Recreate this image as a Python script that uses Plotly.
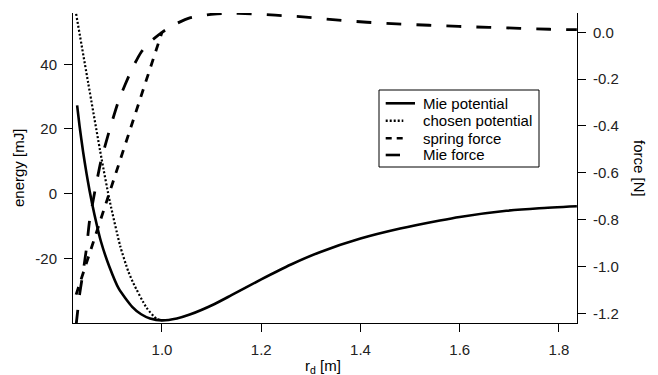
import plotly.graph_objects as go

# Mie potential (energy axis, mJ)
mie_pot_x = [0.829, 0.834, 0.841, 0.848, 0.854, 0.864, 0.877, 0.894, 0.913, 0.940, 0.958, 0.976, 1.000,
             1.030, 1.056, 1.105, 1.140, 1.200, 1.260, 1.318, 1.400, 1.480, 1.560, 1.600, 1.694, 1.760, 1.836]
mie_pot_y = [27.3, 20.8, 13.0, 6.2, 1.0, -6.5, -14.8, -22.6, -29.4, -35.0, -37.3, -38.6, -39.2,
             -38.6, -37.4, -34.2, -31.4, -26.5, -21.9, -18.1, -13.9, -10.8, -8.3, -7.2, -5.3, -4.5, -3.9]

# chosen potential (energy axis, mJ)
chosen_x = [0.827, 0.851, 0.878, 0.895, 0.916, 0.932, 0.942, 0.969, 0.989, 1.000]
chosen_y = [55.6, 34.5, 11.0, -2.5, -16.3, -24.0, -27.6, -35.3, -38.7, -39.2]

# spring force (force axis, N)
spring_x = [0.827, 0.878, 0.919, 0.962, 1.000]
spring_y = [-1.12, -0.79, -0.53, -0.25, 0.0]

# Mie force (force axis, N)
mie_f_x = [0.827, 0.834, 0.841, 0.848, 0.854, 0.864, 0.877, 0.894, 0.913, 0.940, 0.958, 0.976, 1.000,
           1.030, 1.056, 1.105, 1.140, 1.167, 1.228, 1.290, 1.350, 1.413, 1.473, 1.538, 1.598,
           1.659, 1.721, 1.781, 1.836]
mie_f_y = [-1.25, -1.12, -1.025, -0.92, -0.806, -0.687, -0.55, -0.42, -0.29, -0.155, -0.085, -0.041, 0.0,
           0.038, 0.062, 0.078, 0.081, 0.080, 0.073, 0.065, 0.053, 0.043, 0.036, 0.030, 0.025,
           0.021, 0.017, 0.013, 0.011]

x_ticks = [1.0, 1.2, 1.4, 1.6, 1.8]
e_ticks = [-20, 0, 20, 40]
f_ticks = [-1.2, -1.0, -0.8, -0.6, -0.4, -0.2, 0.0]

series_names = ["Mie potential", "chosen potential", "spring force", "Mie force"]
series_dash = ["solid", "2px,2px", "8px,8px", "15px,15px"]
legend_dash = ["solid", "2px,2px", "6px,5px", "solid"]
legend_len = [29.3, 17.6, 17.6, 14.3]

FONT = "Arial, Liberation Sans, sans-serif"
FS = 15

fig = go.Figure()
fig.add_trace(go.Scatter(x=mie_pot_x, y=mie_pot_y, mode="lines", name=series_names[0],
                         line=dict(color="black", width=2.6, dash=series_dash[0], shape="spline", smoothing=0.6)))
fig.add_trace(go.Scatter(x=chosen_x, y=chosen_y, mode="lines", name=series_names[1],
                         line=dict(color="black", width=2.2, dash=series_dash[1], shape="spline", smoothing=0.6)))
fig.add_trace(go.Scatter(x=spring_x, y=spring_y, mode="lines", name=series_names[2], yaxis="y2",
                         line=dict(color="black", width=2.8, dash=series_dash[2])))
fig.add_trace(go.Scatter(x=mie_f_x, y=mie_f_y, mode="lines", name=series_names[3], yaxis="y2",
                         line=dict(color="black", width=2.8, dash=series_dash[3], shape="spline", smoothing=0.6)))

axis_common = dict(showgrid=False, zeroline=False, showline=True, linecolor="black", linewidth=1,
                   ticks="outside", ticklen=8, tickcolor="black", tickwidth=1,
                   tickfont=dict(family=FONT, size=FS, color="#222"))

# plot area in pixels: left 73, right 577, top 13, bottom 323
L, R, T, B = 73, 577, 13, 323
W, H = R - L, B - T

fig.update_layout(
    width=658, height=375,
    margin=dict(l=L, r=658 - R, t=T, b=375 - B),
    plot_bgcolor="white", paper_bgcolor="white",
    font=dict(family=FONT, size=FS, color="black"),
    xaxis=dict(range=[0.8207, 1.8363], tickvals=x_ticks, ticktext=[f"{v:.1f}" for v in x_ticks],
               ticklabelstandoff=5, **axis_common),
    yaxis=dict(range=[-40.0, 55.87], tickvals=e_ticks, ticktext=[str(v) for v in e_ticks],
               ticklabelstandoff=4, **axis_common),
    yaxis2=dict(range=[-1.2414, 0.0824], overlaying="y", side="right", anchor="x",
                tickvals=f_ticks, ticktext=[f"{v:.1f}" for v in f_ticks], ticklabelstandoff=4,
                **axis_common),
    showlegend=False,
)

def px_x(p):
    return (p - L) / W

def px_y(p):
    return (B - p) / H

# legend box
fig.add_shape(type="rect", xref="paper", yref="paper", x0=px_x(379), x1=px_x(539),
              y0=px_y(167), y1=px_y(90), line=dict(color="black", width=1), fillcolor="white",
              layer="above")
row_y = [103.3, 120.7, 138.3, 155.0]
for i, name in enumerate(series_names):
    fig.add_shape(type="line", xref="paper", yref="paper",
                  x0=px_x(385.7), x1=px_x(385.7 + legend_len[i]), y0=px_y(row_y[i]), y1=px_y(row_y[i]),
                  line=dict(color="black", width=2.6, dash=legend_dash[i]), layer="above")
    fig.add_annotation(text=name, xref="paper", yref="paper", x=px_x(420.5), y=px_y(row_y[i]),
                       xanchor="left", yanchor="middle", showarrow=False,
                       font=dict(family=FONT, size=FS, color="black"))

fig.add_annotation(text="energy [mJ]", xref="paper", yref="paper", x=px_x(18), y=0.5,
                   textangle=-90, showarrow=False, font=dict(family=FONT, size=FS),
                   xanchor="center", yanchor="middle")
fig.add_annotation(text="force [N]", xref="paper", yref="paper", x=px_x(640), y=0.5,
                   textangle=90, showarrow=False, font=dict(family=FONT, size=FS),
                   xanchor="center", yanchor="middle")
fig.add_annotation(text="r<sub>d</sub> [m]", xref="paper", yref="paper", x=0.497, y=px_y(366),
                   showarrow=False, font=dict(family=FONT, size=FS),
                   xanchor="center", yanchor="middle")

fig.write_html("out.html")
